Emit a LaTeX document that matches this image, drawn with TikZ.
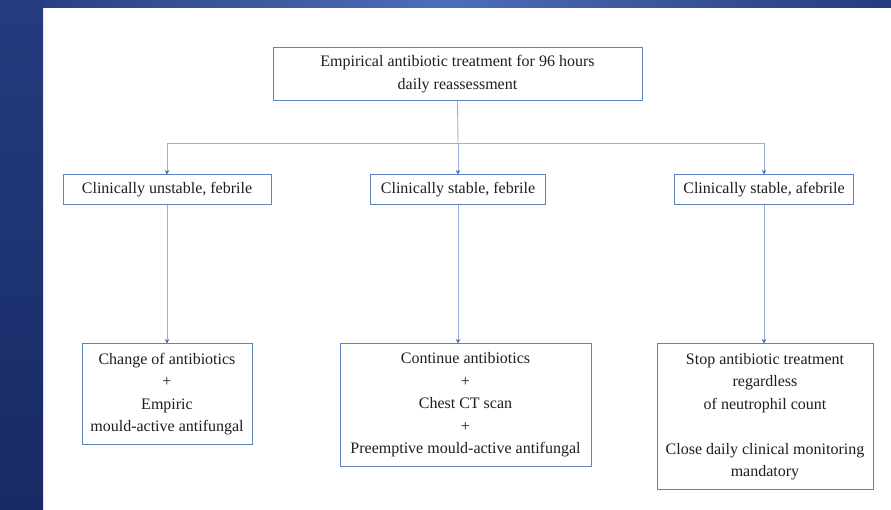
\documentclass[tikz,border=0pt]{standalone}
\usepackage{fontspec}
\setmainfont{Liberation Serif}
\usetikzlibrary{arrows.meta}
\definecolor{navy}{HTML}{182A66}
\definecolor{navytop}{HTML}{243C7E}
\definecolor{bandmid}{HTML}{4E6EB8}
\definecolor{boxline}{HTML}{5F82C4}
\definecolor{linkline}{HTML}{9AAEDA}
\definecolor{tipblue}{HTML}{4A6CB4}
\definecolor{ink}{HTML}{1E1E1E}
\tikzset{
  flowbox/.style={draw=boxline, line width=1pt, inner sep=0pt, align=center,
    text=ink, font=\fontsize{16}{22.5}\selectfont},
  link/.style={draw=linkline, line width=0.9pt},
  arrowlink/.style={link, -{Stealth[length=4.5pt,width=4.5pt,color=tipblue]}},
}
\begin{document}
\begin{tikzpicture}[x=1pt,y=-1pt]
  \useasboundingbox (0,0) rectangle (891,510);
  % slide background: white panel with blue frame
  \fill[white] (0,0) rectangle (891,510);
  \shade[left color=navytop, right color=navytop, middle color=bandmid] (0,0) rectangle (891,8);
  \shade[top color=navytop, bottom color=navy] (0,0) rectangle (43,510);

  % top box
  \node[flowbox, minimum width=369pt, minimum height=53pt,
    font=\fontsize{16}{23.5}\selectfont] (top) at (457.5,74)
    {Empirical antibiotic treatment for 96 hours\\daily reassessment};

  % middle row
  \node[flowbox, minimum width=208pt, minimum height=30pt] (m1) at (167,190) {Clinically unstable, febrile};
  \node[flowbox, minimum width=175pt, minimum height=30pt] (m2) at (458,190) {Clinically stable, febrile};
  \node[flowbox, minimum width=179pt, minimum height=30pt] (m3) at (764,190) {Clinically stable, afebrile};

  % bottom row
  \node[flowbox, minimum width=170pt, minimum height=100pt] (b1) at (167,394)
    {Change of antibiotics\\+\\Empiric\\mould-active antifungal};
  \node[flowbox, minimum width=251pt, minimum height=122pt] (b2) at (465.5,405)
    {Continue antibiotics\\+\\Chest CT scan\\+\\Preemptive mould-active antifungal};
  \node[flowbox, minimum width=216pt, minimum height=145pt] (b3) at (765,416.5)
    {Stop antibiotic treatment\\regardless\\of neutrophil count\\[22.5pt]Close daily clinical monitoring\\mandatory};

  % branching connectors
  \coordinate (split) at (458,143);
  \coordinate (splitL) at (167,143);
  \coordinate (splitR) at (764,143);
  \draw[link] (top.south) -- (split);
  \draw[link] (splitL) -- (splitR);
  \draw[arrowlink] (splitL) -- (m1.north);
  \draw[arrowlink] (split) -- (m2.north);
  \draw[arrowlink] (splitR) -- (m3.north);

  \draw[arrowlink] (m1.south) -- (m1.south |- b1.north);
  \draw[arrowlink] (m2.south) -- (m2.south |- b2.north);
  \draw[arrowlink] (m3.south) -- (m3.south |- b3.north);
\end{tikzpicture}
\end{document}
